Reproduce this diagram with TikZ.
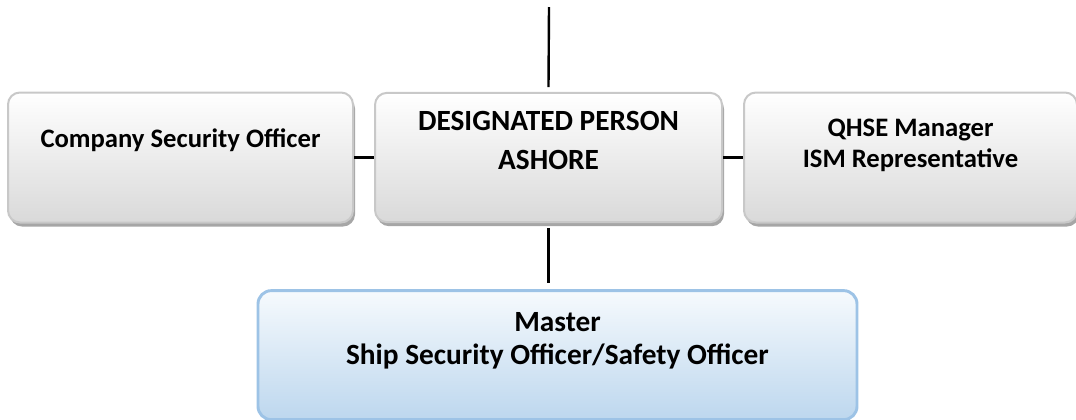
\documentclass[tikz,border=0pt]{standalone}
\usepackage{fontspec}
\setmainfont{Carlito}
\usetikzlibrary{positioning,shadows}

\definecolor{boxline}{RGB}{200,200,200}
\definecolor{boxbottom}{RGB}{217,217,217}
\definecolor{boxshadow}{RGB}{166,166,166}
\definecolor{shipline}{RGB}{157,195,230}
\definecolor{shiptop}{RGB}{246,250,253}
\definecolor{shipbottom}{RGB}{189,215,238}

\tikzset{
  greybox/.style={draw=boxline, line width=1.5pt, rounded corners=9pt,
    top color=white, bottom color=boxbottom,
    drop shadow={shadow xshift=1.5pt, shadow yshift=-3pt, fill=boxshadow, opacity=1}},
  shipbox/.style={draw=shipline, line width=2.2pt, rounded corners=10pt,
    top color=shiptop, bottom color=shipbottom},
  boxtext/.style={inner sep=0pt, align=center},
  link/.style={draw=black, line width=1.8pt},
}

\begin{document}
\begin{tikzpicture}[x=0.75pt,y=-0.75pt,node distance=15pt]
\useasboundingbox (0,0) rectangle (1076,419);

% boxes
\node[greybox, minimum width=260.25pt, minimum height=97pt] (dpa) at (548.5,157.5) {};
\node[greybox, minimum width=258.75pt, minimum height=97.5pt, left=15pt of dpa] (cso) {};
\node[greybox, minimum width=249.75pt, minimum height=97.5pt, right=15pt of dpa] (qhse) {};
\node[shipbox, minimum width=449.25pt, minimum height=96.75pt, below=49.5pt of dpa, xshift=6.75pt] (master) {};

% texts, a little above the middle of each box
\node[boxtext, font=\bfseries\fontsize{20}{24}\selectfont] (csotext) at ([yshift=13pt]cso.center) {Company Security Officer};
\node[boxtext, font=\bfseries\fontsize{22}{29}\selectfont] (dpatext) at ([yshift=13pt]dpa.center) {DESIGNATED PERSON\\ASHORE};
\node[boxtext, font=\bfseries\fontsize{20}{23}\selectfont] (qhsetext) at ([yshift=9pt]qhse.center) {QHSE Manager\\ISM Representative};
\node[boxtext, font=\bfseries\fontsize{22}{24.5}\selectfont] (mastertext) at ([yshift=11pt]master.center) {Master\\Ship Security Officer/Safety Officer};

% connectors
\coordinate (topend) at (549,7);
\draw[link] (topend) -- ([yshift=3.5pt]dpa.north);
\draw[link] (cso) -- (dpa);
\draw[link] (dpa) -- (qhse);
\draw[link, shorten <=3.5pt, shorten >=5pt] (dpa.south) -- (dpa.south |- master.north);
\end{tikzpicture}
\end{document}
